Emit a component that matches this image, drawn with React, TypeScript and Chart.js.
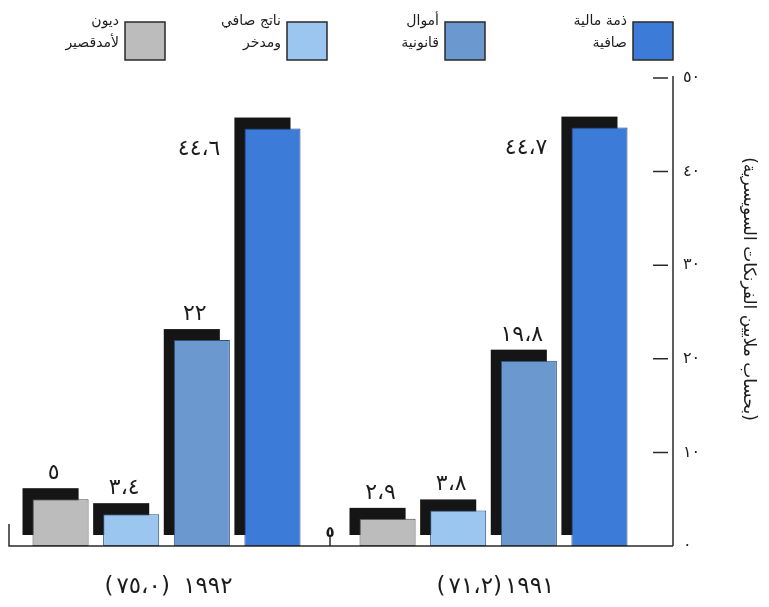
import React, { useEffect, useRef } from "react";
import { Chart, registerables } from "chart.js";

Chart.register(...registerables);

// Year groups, left to right
const years = ["١٩٩٢ (٧٥،٠)", "١٩٩١(٧١،٢)"];

// Series values per year (millions of Swiss francs), left-to-right order inside a group
const shortTermDebt = [5, 2.9];
const netProductSaved = [3.4, 3.8];
const legalFunds = [22, 19.8];
const netWorth = [44.6, 44.7];

const seriesNames = [
  ["ديون", "لأمدقصير"],
  ["ناتج صافي", "ومدخر"],
  ["أموال", "قانونية"],
  ["ذمة مالية", "صافية"],
];

const yTicks = [0, 10, 20, 30, 40, 50];
const yTitle = "(بحساب ملايين الفرنكات السويسرية)";
const groupMarker = "٥";

const FILLS = ["#bcbcbc", "#9bc6ef", "#6b98cf", "#3c7bd8"];
const EDGES = ["#4a4a4a", "#2b4d78", "#2b4d78", "#1c3d7e"];
const SHADOW = "#151515";
const INK = "#1c1c1c";
const FONT = "'DejaVu Sans', sans-serif";

const SHADOW_DX = -10;
const SHADOW_DY = -11;

// legend swatch left edges, one per series
const LEGEND_X = [125, 287, 445, 633];

const toArabicDigits = (v: number) =>
  String(v)
    .replace(/\d/g, (d) => "٠١٢٣٤٥٦٧٨٩"[Number(d)])
    .replace(".", "،");

const decor = {
  id: "decor",
  beforeDatasetsDraw(chart: any) {
    const ctx = chart.ctx;
    ctx.save();
    ctx.fillStyle = SHADOW;
    chart.data.datasets.forEach((_: any, i: number) => {
      chart.getDatasetMeta(i).data.forEach((bar: any) => {
        const { x, y, base, width } = bar.getProps(["x", "y", "base", "width"], true);
        ctx.fillRect(x - width / 2 + SHADOW_DX, y + SHADOW_DY, width, base - y);
      });
    });
    ctx.restore();
  },
  afterDatasetsDraw(chart: any) {
    const ctx = chart.ctx;
    const { left, right, bottom } = chart.chartArea;
    const yScale = chart.scales.y;
    const xScale = chart.scales.x;
    const axisX = right + 16;

    ctx.save();
    ctx.strokeStyle = "#2a2a2a";
    ctx.lineWidth = 1.5;

    // vertical value axis with ticks on its left side
    ctx.beginPath();
    ctx.moveTo(axisX, yScale.getPixelForValue(yTicks[yTicks.length - 1]) - 2);
    ctx.lineTo(axisX, bottom);
    yTicks.slice(1).forEach((v) => {
      const py = yScale.getPixelForValue(v);
      ctx.moveTo(axisX - 20, py);
      ctx.lineTo(axisX - 5, py);
    });
    // base line with a short stub on the far left
    ctx.moveTo(left + 6, bottom - 22);
    ctx.lineTo(left + 6, bottom);
    ctx.lineTo(axisX, bottom);
    ctx.stroke();

    // marker between the two year groups
    const midX = (xScale.getPixelForValue(0) + xScale.getPixelForValue(1)) / 2;
    ctx.beginPath();
    ctx.moveTo(midX, bottom);
    ctx.lineTo(midX, bottom - 10);
    ctx.stroke();
    ctx.fillStyle = INK;
    ctx.font = `bold 15px ${FONT}`;
    ctx.textAlign = "center";
    ctx.textBaseline = "alphabetic";
    ctx.fillText(groupMarker, midX, bottom - 9);

    // value labels
    const last = chart.data.datasets.length - 1;
    ctx.font = `22px ${FONT}`;
    (ctx as any).letterSpacing = "6px";
    ctx.direction = "ltr";
    chart.data.datasets.forEach((ds: any, i: number) => {
      chart.getDatasetMeta(i).data.forEach((bar: any, j: number) => {
        const { x, y, width } = bar.getProps(["x", "y", "width"], true);
        const text = toArabicDigits(ds.data[j]);
        if (i === last) {
          ctx.textAlign = "right";
          ctx.fillText(text, x - width / 2 + SHADOW_DX - 14, y + 26);
        } else {
          ctx.textAlign = "center";
          ctx.fillText(text, x + SHADOW_DX + 3, y + SHADOW_DY - 9);
        }
      });
    });

    // year labels under the groups
    ctx.font = `23px ${FONT}`;
    (ctx as any).letterSpacing = "3px";
    ctx.direction = "rtl";
    ctx.textAlign = "center";
    chart.data.labels.forEach((lab: string, j: number) => {
      ctx.fillText(lab, xScale.getPixelForValue(j) + 2, bottom + 47);
    });

    // legend: swatch on the right, two-line caption on its left
    (ctx as any).letterSpacing = "0px";
    ctx.font = `14px ${FONT}`;
    chart.data.datasets.forEach((ds: any, i: number) => {
      const sx = LEGEND_X[i];
      ctx.fillStyle = ds.backgroundColor;
      ctx.fillRect(sx, 22, 40, 38);
      ctx.strokeStyle = "#2a2a2a";
      ctx.lineWidth = 1.5;
      ctx.strokeRect(sx, 22, 40, 38);
      ctx.fillStyle = INK;
      ctx.direction = "rtl";
      ctx.textAlign = "right";
      seriesNames[i].forEach((line, k) => ctx.fillText(line, sx - 6, 25 + k * 22));
    });

    // axis title, rotated clockwise
    ctx.translate(748, 289);
    ctx.rotate(Math.PI / 2);
    ctx.font = `17px ${FONT}`;
    ctx.textAlign = "center";
    ctx.textBaseline = "middle";
    ctx.direction = "rtl";
    ctx.fillText(yTitle, 0, 0);
    ctx.restore();
  },
};

export default function App() {
  const canvasRef = useRef<HTMLCanvasElement>(null);

  useEffect(() => {
    document.body.style.margin = "0";
    const series = [shortTermDebt, netProductSaved, legalFunds, netWorth];
    const chart = new Chart(canvasRef.current!, {
      type: "bar",
      data: {
        labels: years,
        datasets: series.map((data, i) => ({
          label: seriesNames[i].join(" "),
          data,
          backgroundColor: FILLS[i],
          borderColor: EDGES[i],
          borderWidth: 1,
          borderSkipped: false,
          categoryPercentage: 0.864,
          barPercentage: 0.794,
        })),
      },
      options: {
        responsive: false,
        animation: false,
        events: [],
        layout: { padding: { left: 3, top: 78, right: 0, bottom: 61 } },
        plugins: { legend: { display: false }, tooltip: { enabled: false } },
        scales: {
          x: { display: false },
          y: {
            position: "right",
            min: 0,
            max: 50,
            grid: { display: false, drawTicks: false },
            border: { display: false },
            ticks: {
              stepSize: 10,
              padding: 26,
              color: INK,
              font: { family: FONT, size: 16 },
              callback: (v: any) => toArabicDigits(Number(v)),
            },
            afterFit: (s: any) => {
              s.width = 112;
            },
          },
        },
      },
      plugins: [decor],
    });
    return () => chart.destroy();
  }, []);

  return (
    <div style={{ width: 769, height: 607, background: "#fff", overflow: "hidden" }}>
      <canvas ref={canvasRef} width={769} height={607} style={{ display: "block" }} />
    </div>
  );
}
